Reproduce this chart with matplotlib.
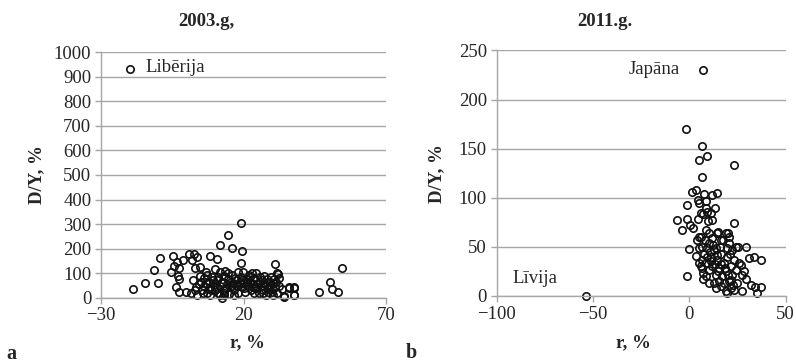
import numpy as np
import matplotlib.pyplot as plt

plt.rcParams['font.family'] = ['Liberation Serif', 'DejaVu Serif']

# 2003.g. panel: r, % and D/Y, %
r_2003 = [-20.0, -18.9, -14.7, -11.4, -10.1, -9.3, -5.4, -4.8, -4.5, -3.8, -3.4, -3.1,
          -2.8, -2.6, -2.7, -1.1, -0.3, 1.0, 1.6, 1.9, 2.7, 2.9, 3.6, 4.8, 8.2, 10.6,
          11.7, 14.4, 16.0, 19.0, 19.5, 19.2, 31.0, 32.1, 37.6, 46.6, 50.3, 51.1, 53.1,
          54.4, 36.0, 37.6, 34.2, 12.4, 13.0,
          2.4, 3.0, 4.2, 5.4, 6.0, 6.9, 7.1, 7.7, 8.1, 8.3, 8.9, 9.5, 9.9, 10.0, 10.6,
          11.2, 11.8, 11.8, 12.4, 13.0, 13.3, 13.6, 14.1, 14.7, 15.0, 15.3, 15.9, 16.3,
          16.7, 17.1, 17.7, 17.9, 18.2, 18.6, 19.1, 19.4, 19.8, 20.2, 20.6, 20.9, 21.4,
          21.8, 22.1, 22.6, 22.9, 23.3, 23.7, 24.1, 24.4, 24.9, 25.3, 25.6, 26.1, 26.4,
          26.8, 27.3, 27.6, 28.0, 28.2, 28.8, 29.1, 29.6, 30.0, 30.3, 30.8, 31.1, 31.7,
          31.9, 32.6, 33.5, 34.3, 35.8, 37.6, 37.8,
          3.6, 5.0, 6.2, 7.3, 8.5, 9.2, 10.4, 10.9, 11.6, 12.8, 13.9, 14.4, 15.5, 16.5,
          17.4, 18.8, 20.0, 21.2, 22.3, 23.5, 24.7, 25.9, 27.0, 28.4, 29.4, 30.5, 31.5,
          32.3, 3.4, 4.6, 5.8, 6.7, 13.2, 16.1, 19.6, 23.2, 26.7, 30.2]
dy_2003 = [931, 37, 61, 111, 61, 160, 105, 170, 129, 45, 145, 87,
           75, 24, 122, 154, 23, 178, 20, 154, 178, 121, 167, 126, 170, 159,
           215, 254, 202, 306, 192, 140, 139, 96, 11, 23, 64, 37, 22,
           122, 39, 38, 4, 0, 11,
           72, 31, 56, 31, 79, 106, 18, 65, 45, 11, 86, 52, 115, 31, 72,
           18, 106, 48, 65, 88, 31, 110, 56, 75, 15, 42, 92, 61,
           31, 79, 48, 106, 18, 65, 86, 42, 106, 58, 24, 75, 48,
           92, 65, 31, 102, 56, 79, 38, 99, 61, 18, 83, 48, 72,
           31, 88, 56, 11, 75, 42, 65, 86, 24, 58, 75, 45, 99,
           18, 48, 34, 7, 42, 42, 11,
           11, 65, 48, 92, 31, 72, 38, 86, 11, 58, 38, 99, 65, 11,
           72, 56, 38, 65, 83, 18, 42, 65, 48, 24, 48, 34, 65,
           79, 42, 88, 18, 58, 18, 48, 72, 42, 18, 11]

# 2011.g. panel
r_2011 = [7.3, -53.6, -1.7, 6.6, 9.0, 5.0, 23.4, 6.6, 3.5, 1.4, 7.6, 14.5, 11.9, 8.6,
          -1.0, 4.9, 13.4, 4.4, -6.2, -1.4, -4.0, 0.3, 1.9, 4.3, 4.8, 7.3, 9.0, 11.6,
          15.1, 23.4, -0.3, -1.4, 3.3, 19.9, 20.8, 25.1, 29.4, 31.1, 33.4, 37.4, 26.6,
          27.3, 29.6, 32.0, 33.9, 37.0, 35.0, 27.2, 18.9, 7.3, 22.8,
          5.9, 8.5, 10.2, 6.7, 7.6, 9.3, 11.1, 12.8, 14.5, 16.3, 18.0, 19.7, 21.5, 23.2,
          8.5, 10.2, 11.9, 13.7, 15.4, 17.1, 18.9, 20.6, 22.3, 12.8, 16.3, 18.0, 21.5,
          24.9, 5.9, 6.7, 9.0, 10.7, 12.5, 14.2, 15.9, 17.6, 19.4, 21.1, 16.3, 14.5,
          11.9, 10.2, 8.0, 9.7, 11.1, 8.5, 5.9, 4.2, 5.0, 5.0, 6.7, 8.5, 7.3, 25.8,
          24.0, 28.4, 13.7, 11.4, 13.1, 14.8, 16.6, 18.3, 20.1, 21.8, 23.2, 19.7, 15.4,
          13.7, 10.2, 18.9, 20.6, 22.3, 24.0]
dy_2011 = [230, 0, 170, 153, 142, 138, 133, 121, 108, 106, 104, 105, 103, 97,
           93, 95, 90, 98, 77, 78, 67, 72, 69, 78, 60, 83, 85, 77,
           65, 74, 48, 20, 41, 64, 60, 50, 50, 39, 40, 37, 31,
           21, 17, 11, 9, 9, 3, 5, 5, 17, 11,
           60, 67, 64, 50, 43, 49, 40, 47, 37, 43, 33, 40, 30, 37,
           33, 26, 30, 21, 28, 20, 25, 15, 21, 13, 10, 13, 8,
           13, 30, 37, 40, 45, 52, 42, 50, 57, 49, 43, 57, 64,
           59, 54, 57, 76, 84, 89, 84, 57, 49, 33, 28, 20, 23, 33,
           26, 25, 49, 35, 32, 25, 32, 28, 21, 16, 6, 3, 15,
           8, 13, 64, 54, 47, 50]

grid_c = '#a6a6a6'
txt_c = '#262626'
fs = 13.5

fig = plt.figure(figsize=(7.96, 3.63), dpi=100)
ax1 = fig.add_axes([0.127, 0.180, 0.358, 0.676])
ax2 = fig.add_axes([0.624, 0.185, 0.363, 0.676])


def style(ax, xt, yt):
    ax.set_xlim(xt[0], xt[-1])
    ax.set_ylim(yt[0], yt[-1])
    ax.set_xticks(xt)
    ax.set_yticks(yt)
    ax.yaxis.grid(True, color=grid_c, linewidth=1.0)
    ax.set_axisbelow(True)
    for s in ['top', 'right']:
        ax.spines[s].set_visible(False)
    for s in ['left', 'bottom']:
        ax.spines[s].set_color(grid_c)
        ax.spines[s].set_linewidth(1.0)
    ax.tick_params(color=grid_c, length=4, width=1.0, labelsize=fs,
                   labelcolor=txt_c, pad=3)


style(ax1, [-30, 20, 70], list(range(0, 1001, 100)))
style(ax2, [-100, -50, 0, 50], list(range(0, 251, 50)))

ax1.plot(r_2003, dy_2003, 'o', mfc='none', mec='#111111', mew=1.2, ms=5.3,
         linestyle='none', clip_on=False)
ax2.plot(r_2011, dy_2011, 'o', mfc='none', mec='#111111', mew=1.2, ms=5.3,
         linestyle='none', clip_on=False)

ax1.text(-14.5, 936, 'Libērija', fontsize=fs, color=txt_c, va='center', ha='left')
ax2.text(-31.5, 231, 'Japāna', fontsize=fs, color=txt_c, va='center', ha='left')
ax2.text(-91.7, 18, 'Līvija', fontsize=fs, color=txt_c, va='center', ha='left')

for ax in (ax1, ax2):
    ax.set_ylabel('D/Y, %', fontsize=fs, fontweight='bold', color=txt_c)

fig.text(206 / 796, 1 - 22 / 363, '2003.g,', fontsize=fs, fontweight='bold',
         color=txt_c, ha='center', va='center')
fig.text(605 / 796, 1 - 22 / 363, '2011.g.', fontsize=fs, fontweight='bold',
         color=txt_c, ha='center', va='center')
fig.text(247 / 796, 1 - 343 / 363, 'r, %', fontsize=fs, fontweight='bold',
         color=txt_c, ha='center', va='center')
fig.text(633 / 796, 1 - 343 / 363, 'r, %', fontsize=fs, fontweight='bold',
         color=txt_c, ha='center', va='center')
fig.text(11 / 796, 1 - 354 / 363, 'a', fontsize=fs + 1, fontweight='bold',
         color=txt_c, ha='center', va='center')
fig.text(411 / 796, 1 - 353 / 363, 'b', fontsize=fs + 1, fontweight='bold',
         color=txt_c, ha='center', va='center')

ax1.yaxis.set_label_coords(-0.196, 0.5)
ax2.yaxis.set_label_coords(-0.179, 0.5)

fig.savefig('out.png', dpi=100)
